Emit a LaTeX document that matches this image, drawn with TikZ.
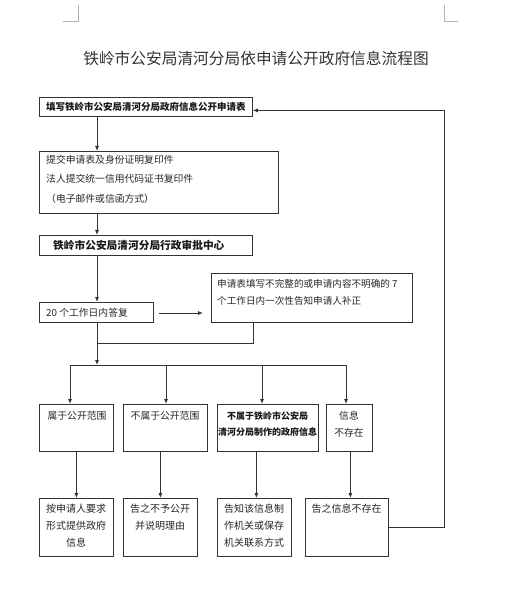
\documentclass[tikz,border=0pt]{standalone}
\usepackage{fontspec}
\setmainfont{Noto Sans CJK SC}
\usetikzlibrary{arrows.meta}
\begin{document}
\begin{tikzpicture}[x=1pt,y=-1pt,
  box/.style={draw=black!80, line width=0.8pt, inner sep=0pt, anchor=north west},
  txt/.style={inner sep=0pt, text=black!85, font=\fontsize{9.8}{19.5}\selectfont},
  btxt/.style={inner sep=0pt, text=black!90, font=\fontsize{9.5}{16}\selectfont\bfseries},
  ctxt/.style={inner sep=0pt, text=black!85, align=center, font=\fontsize{10}{17}\selectfont},
  line/.style={draw=black!80, line width=0.8pt},
  arr/.style={line, -{Latex[length=5pt,width=4pt]}},
  cornermark/.style={draw=black!30, line width=0.6pt}]
\useasboundingbox (0,0) rectangle (529,601);
% corner marks
\draw[cornermark] (63,21) -- (78,21) -- (78,5);
\draw[cornermark] (444,5) -- (444,21) -- (458,21);
% title
\node[inner sep=0pt, text=black!80, font=\fontsize{15.7}{18}\selectfont] (title) at (256,58) {铁岭市公安局清河分局依申请公开政府信息流程图};
% boxes
\node[box, minimum width=213pt, minimum height=19pt] (b1) at (39,97) {};
\node[btxt] (t1) at (b1.center) {填写铁岭市公安局清河分局政府信息公开申请表};
\node[box, minimum width=239pt, minimum height=62pt] (b2) at (39,151) {};
\node[txt, anchor=west, align=left] (t2) at (46,179) {提交申请表及身份证明复印件\\法人提交统一信用代码证书复印件\\（电子邮件或信函方式）};
\node[box, minimum width=213pt, minimum height=20pt] (b3) at (39,235) {};
\node[btxt, anchor=west, font=\fontsize{10.7}{14}\selectfont\bfseries] (t3) at (53,245) {铁岭市公安局清河分局行政审批中心};
\node[box, minimum width=114pt, minimum height=20pt] (b4) at (39,302) {};
\node[txt, anchor=west] (t4) at (46,313) {20 个工作日内答复};
\node[box, minimum width=201pt, minimum height=49pt] (b5) at (211,273) {};
\node[txt, anchor=north west, align=left, font=\fontsize{9.6}{17}\selectfont] (t5) at (217,279) {申请表填写不完整的或申请内容不明确的 7\\个工作日内一次性告知申请人补正};
% row boxes
\node[box, minimum width=74pt, minimum height=47pt] (A) at (39,404) {};
\node[txt, anchor=north] (tA) at (77,411) {属于公开范围};
\node[box, minimum width=84pt, minimum height=47pt] (B) at (123,404) {};
\node[txt, anchor=north] (tB) at (165,411) {不属于公开范围};
\node[box, minimum width=101pt, minimum height=47pt] (C) at (217,404) {};
\node[btxt, anchor=north, align=center, font=\fontsize{9}{16.5}\selectfont\bfseries] (tC) at (267.5,411) {不属于铁岭市公安局\\清河分局制作的政府信息};
\node[box, minimum width=46pt, minimum height=47pt] (D) at (326,404) {};
\node[txt, anchor=north, align=center, font=\fontsize{9.8}{17}\selectfont] (tD) at (349,411) {信息\\不存在};
% bottom boxes
\node[box, minimum width=74pt, minimum height=58pt] (E) at (39,498) {};
\node[ctxt, anchor=north] (tE) at (76,504) {按申请人要求\\形式提供政府\\信息};
\node[box, minimum width=74pt, minimum height=58pt] (F) at (123,498) {};
\node[ctxt, anchor=north] (tF) at (160,504) {告之不予公开\\并说明理由};
\node[box, minimum width=74pt, minimum height=58pt] (G) at (217,498) {};
\node[ctxt, anchor=north] (tG) at (254,504) {告知该信息制\\作机关或保存\\机关联系方式};
\node[box, minimum width=83pt, minimum height=58pt] (H) at (305,498) {};
\node[ctxt, anchor=north] (tH) at (346.5,504) {告之信息不存在};
% helper coordinates
\coordinate (spine) at (97,0);
\coordinate (a1) at (159,313);
\coordinate (a2) at (203,313);
\coordinate (mid) at (253,343);
\coordinate (bus) at (97,365);
\coordinate (brA) at (70,365);
\coordinate (brB) at (166,365);
\coordinate (brC) at (262,365);
\coordinate (brD) at (346,365);
\coordinate (loopx) at (444,0);
% connectors
\draw[arr] (b1.south -| spine) -- (b2.north -| spine);
\draw[arr] (b2.south -| spine) -- (b3.north -| spine);
\draw[arr] (b3.south -| spine) -- (b4.north -| spine);
\draw[arr] (a1) -- (a2);
\draw[line] (b5.south -| mid) -- (mid) -- (mid -| spine);
\draw[arr] (b4.south -| spine) -- (bus);
\draw[line] (brA) -- (brD);
\draw[arr] (brA) -- (brA |- A.north);
\draw[arr] (brB) -- (brB |- B.north);
\draw[arr] (brC) -- (brC |- C.north);
\draw[arr] (brD) -- (brD |- D.north);
\draw[arr] (A.south) -- (E.north);
\draw[arr] (F.north |- B.south) -- (F.north);
\draw[arr] ([xshift=2pt]G.north |- C.south) -- ([xshift=2pt]G.north);
\draw[arr] ([xshift=1pt]D.south) -- ([xshift=1pt]D.south |- H.north);
\draw[arr] (H.east) -- (H.east -| loopx) -- ([yshift=-3.5pt]b1.east -| loopx) -- ([yshift=-3.5pt]b1.east);
\end{tikzpicture}
\end{document}
